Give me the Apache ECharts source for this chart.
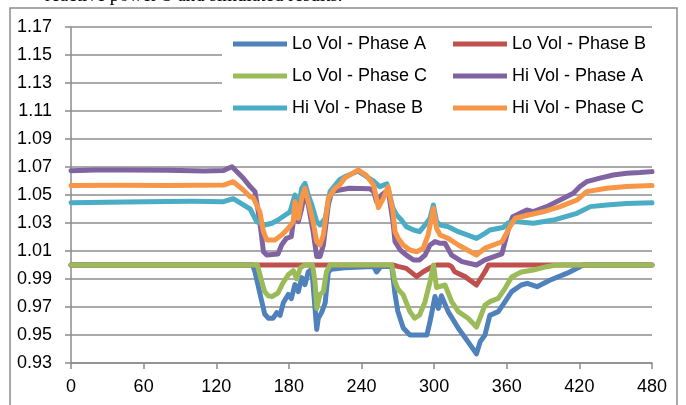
<!DOCTYPE html>
<html>
<head>
<meta charset="utf-8">
<script src="https://cdn.jsdelivr.net/npm/echarts@6/dist/echarts.min.js"></script>
<style>
html,body{margin:0;padding:0;background:#fff;}
#chart{width:686px;height:405px;}
</style>
</head>
<body>
<div id="chart"></div>
<script>
// ---- Data (x = time, y = voltage p.u.) ----
const seriesNames = ['Lo Vol - Phase A','Lo Vol - Phase B','Lo Vol - Phase C','Hi Vol - Phase A','Hi Vol - Phase B','Hi Vol - Phase C'];
const seriesColors = ['#4F81BD','#C0504D','#9BBB59','#8064A2','#4BACC6','#F79646'];
const xTickValues = [0,60,120,180,240,300,360,420,480];
const yTickValues = [0.93,0.95,0.97,0.99,1.01,1.03,1.05,1.07,1.09,1.11,1.13,1.15,1.17];

const loA = [[0,1.0],[150,1.0],[152,0.995],[156,0.980],[160,0.965],[163,0.962],[167,0.962],[170,0.966],[172.7,0.964],[175.4,0.973],[179.5,0.979],[182,0.976],[185,0.986],[187.8,0.981],[190.6,0.991],[193.3,0.986],[196,0.995],[199,0.997],[201.6,0.969],[203,0.954],[204.3,0.962],[207,0.966],[210,0.973],[212.6,0.995],[215,0.997],[226,0.998],[250,0.999],[252.5,0.995],[256,0.999],[265,0.999],[267.7,0.979],[270,0.967],[274.5,0.955],[280,0.950],[294,0.950],[296.6,0.9595],[300.7,0.9775],[303.5,0.969],[306,0.978],[311.6,0.9667],[320,0.9548],[328,0.9452],[335,0.9365],[338,0.9452],[342,0.950],[346,0.964],[353,0.9667],[358.6,0.9738],[364,0.981],[372,0.9857],[377,0.9869],[385,0.9845],[396,0.9893],[409.5,0.994],[420.5,0.9988],[423,1.0],[480,1.0]];

const loB = [[0,1.0],[266,1.0],[270,0.999],[277,0.9976],[285.6,0.9917],[291,0.9952],[298,0.9986],[302,1.0],[312,1.0],[314.5,0.9988],[317,0.9952],[325.5,0.9917],[335,0.9857],[342,0.9952],[345,1.0],[480,1.0]];

const loC = [[0,1.0],[154,1.0],[157,0.990],[160,0.981],[163,0.978],[166,0.9774],[171,0.980],[175,0.987],[179.5,0.993],[183.7,0.996],[186.5,0.990],[189.5,0.998],[193,1.0],[199.5,1.0],[201.6,0.988],[203,0.969],[205.7,0.979],[208.5,0.981],[211,0.995],[214,1.0],[265,1.0],[267.6,0.988],[270,0.983],[274.5,0.9786],[280,0.9667],[284,0.962],[288,0.9643],[292.5,0.9738],[296.6,0.988],[299.5,1.0],[302,0.984],[309,0.9857],[314.5,0.9738],[320,0.9667],[328,0.962],[335,0.9557],[342,0.9714],[346,0.9738],[353,0.9762],[358.6,0.9833],[364,0.9915],[372,0.995],[382,0.9964],[393,0.9988],[401,1.0],[480,1.0]];

const hiA = [[0,1.0674],[20,1.0678],[46,1.0679],[80,1.0676],[110,1.0672],[126,1.0675],[133,1.0702],[142.4,1.062],[148,1.056],[152,1.0524],[156,1.031],[159,1.0095],[161.7,1.0071],[171,1.0079],[174,1.0143],[178,1.0191],[182,1.0202],[185,1.039],[187.8,1.031],[190.6,1.0405],[193.3,1.0524],[196,1.043],[200,1.024],[203,1.006],[205.7,1.006],[208.5,1.0143],[212.6,1.0429],[215.4,1.0524],[222,1.0536],[230,1.0548],[247,1.0545],[250,1.0524],[252.5,1.0452],[256.7,1.05],[262,1.0536],[266,1.031],[267.7,1.0167],[272,1.0107],[277,1.0071],[283,1.0036],[288,1.0036],[292.5,1.0071],[296.6,1.0143],[300.7,1.0167],[305,1.0155],[309,1.0155],[314.5,1.007],[323,1.0024],[335,1.0],[342,1.0036],[353,1.0071],[356,1.008],[362,1.028],[365,1.0345],[368,1.0357],[376.5,1.0393],[382,1.0381],[393,1.0417],[404,1.0464],[415,1.0512],[420.5,1.056],[426,1.0595],[437,1.062],[448,1.0643],[459,1.0655],[470,1.066],[480,1.0667]];

const hiB = [[0,1.0445],[30,1.0448],[60,1.0452],[100,1.0455],[126,1.0452],[134,1.0474],[142.4,1.0429],[148,1.040],[153.4,1.031],[156,1.030],[160,1.0286],[166,1.0298],[171,1.0321],[177,1.0357],[181,1.038],[185,1.05],[187.8,1.0405],[190.6,1.0548],[193.3,1.0583],[196,1.05],[199,1.0429],[203,1.031],[205.7,1.0286],[210,1.0333],[214,1.0524],[222,1.061],[226,1.063],[237,1.067],[250,1.060],[255,1.056],[261,1.058],[266,1.0405],[269,1.0357],[273,1.0321],[277,1.0274],[283,1.025],[288,1.0238],[292.5,1.0286],[296.6,1.0333],[299.4,1.0429],[302,1.031],[305,1.0286],[311.6,1.0274],[320,1.0238],[335,1.019],[342,1.0226],[346,1.025],[357,1.0268],[361,1.03],[367,1.031],[382,1.0298],[398.5,1.0321],[418,1.0369],[429,1.0417],[442.6,1.0429],[459,1.044],[480,1.0445]];

const hiC = [[0,1.0567],[40,1.0570],[80,1.0568],[126,1.0571],[134,1.0595],[142.4,1.0536],[148,1.0488],[150.6,1.048],[156,1.038],[159,1.0238],[161.7,1.0179],[168.5,1.0179],[174,1.0214],[179.5,1.0262],[183.7,1.031],[185,1.0452],[187.8,1.0333],[190.6,1.0476],[193.3,1.0548],[196,1.0452],[200,1.031],[203,1.0167],[205.7,1.0143],[208.5,1.0214],[212.6,1.0476],[218,1.0548],[222,1.0571],[226,1.062],[237.4,1.0679],[244,1.064],[250,1.0571],[254,1.041],[258,1.0476],[262,1.056],[266,1.038],[267.7,1.0238],[270.4,1.019],[274.5,1.0143],[280,1.0107],[285.6,1.0095],[291,1.012],[295,1.0214],[299.4,1.0405],[302,1.0262],[305,1.0214],[311.6,1.019],[320,1.0143],[335,1.0071],[342,1.012],[356,1.0166],[362.7,1.0274],[367,1.0334],[378,1.0357],[390,1.038],[404,1.0417],[418,1.0464],[426,1.0524],[442.6,1.0548],[459,1.056],[480,1.0567]];

const allData = [loA, loB, loC, hiA, hiB, hiC];

// ---- Chart ----
const chart = echarts.init(document.getElementById('chart'), null, {renderer: 'canvas'});
const FONT = 'Liberation Sans';
const GRAY = '#8c8c8c';

const series = seriesNames.map((name, i) => ({
  name: name,
  type: 'line',
  data: allData[i],
  symbol: 'none',
  smooth: false,
  lineStyle: {width: 5, color: seriesColors[i], cap: 'round', join: 'round'},
  itemStyle: {color: seriesColors[i]},
  animation: false
}));

const legendCommon = {
  orient: 'vertical',
  top: 35,
  itemWidth: 54,
  itemHeight: 18,
  itemGap: 14,
  icon: 'path://M0,0 L54,0 L54,5 L0,5 Z',
  textStyle: {fontFamily: FONT, fontSize: 18, color: '#000'},
  selectedMode: false,
  padding: 0
};

const option = {
  backgroundColor: '#fff',
  animation: false,
  grid: {left: 71, right: 34, top: 27, bottom: 42, containLabel: false},
  xAxis: {
    type: 'value',
    min: xTickValues[0],
    max: xTickValues[xTickValues.length - 1],
    interval: xTickValues[1] - xTickValues[0],
    axisLine: {show: true, lineStyle: {color: GRAY, width: 1.5}},
    axisTick: {show: true, inside: false, length: 6, lineStyle: {color: GRAY, width: 1.5}},
    axisLabel: {margin: 15, fontFamily: FONT, fontSize: 18, color: '#000'},
    splitLine: {show: false}
  },
  yAxis: {
    type: 'value',
    min: yTickValues[0],
    max: yTickValues[yTickValues.length - 1],
    interval: 0.02,
    axisLine: {show: true, lineStyle: {color: GRAY, width: 1.5}},
    axisTick: {show: true, inside: false, length: 6, lineStyle: {color: GRAY, width: 1.5}},
    axisLabel: {margin: 19, fontFamily: FONT, fontSize: 18, color: '#000',
      formatter: v => v.toFixed(2)},
    splitLine: {show: true, lineStyle: {color: GRAY, width: 1.5}}
  },
  legend: [
    Object.assign({}, legendCommon, {left: 233, data: [seriesNames[0], seriesNames[2], seriesNames[4]]}),
    Object.assign({}, legendCommon, {left: 453, data: [seriesNames[1], seriesNames[3], seriesNames[5]]})
  ],
  graphic: [
    {type: 'rect', z: 1, silent: true, shape: {x: 222, y: 29, width: 430, height: 108}, style: {fill: '#fff'}},
    {type: 'rect', z: 100, silent: true, shape: {x: 10, y: 8, width: 667, height: 420}, style: {fill: 'none', stroke: GRAY, lineWidth: 1.5}},
    {type: 'text', z: 100, silent: true, left: 45, top: -13, style: {text: 'reactive power S and simulated results.', font: '19px "Liberation Serif"', fill: '#000'}}
  ],
  series: series
};
chart.setOption(option);
</script>
</body>
</html>
